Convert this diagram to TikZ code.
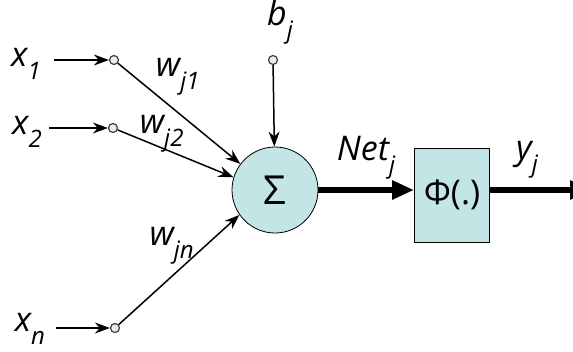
\documentclass[tikz,border=0pt]{standalone}
\usepackage{fontspec}
\setmainfont{Open Sans}
\usepackage{tikz}
\usetikzlibrary{arrows.meta, positioning, calc}
\usepackage{xcolor}

\definecolor{sumfill}{HTML}{C4E5E5}

% variable with a lowered italic subscript
\newcommand{\varlbl}[2]{{\itshape #1}\raisebox{-0.38em}{\fontsize{24}{26}\selectfont\itshape #2}}

\begin{document}
\begin{tikzpicture}[x=1pt, y=-1pt, >={Stealth[length=15pt, width=11pt]}, font=\fontsize{34}{40}\selectfont]

% --- Style Definitions ---
% Input terminals (small open circles)
\tikzstyle{term_node}=[circle, draw=black!75, line width=1.2pt, fill=black!8, inner sep=0pt, minimum size=9pt]
% Summing junction
\tikzstyle{sum_node}=[circle, draw=black, thick, fill=sumfill, minimum size=86pt, inner sep=0pt]
% Activation block
\tikzstyle{act_node}=[rectangle, draw=black, thick, fill=sumfill, minimum width=75pt, minimum height=94pt, inner sep=0pt]
% Text labels
\tikzstyle{txt_node}=[inner sep=1pt]

% Arrow Styles
\tikzstyle{in_arrow}=[->, line width=1.8pt]
\tikzstyle{w_arrow}=[->, line width=1.5pt]
\tikzstyle{big_arrow}=[-{Triangle[length=22pt, width=18pt]}, line width=6pt]

\useasboundingbox (0,0) rectangle (573,351);
\clip (0,0) rectangle (573,351);

% --- 1. Inputs ---
\node[txt_node] (X1) at (26,64) {\varlbl{x}{1}};
\node[txt_node] (X2) at (27,132) {\varlbl{x}{2}};
\node[txt_node] (Xn) at (30,329) {\varlbl{x}{n}};

\node[term_node] (T1) at (114,60) {};
\node[term_node] (T2) at (113,128) {};
\node[term_node] (Tn) at (115,328) {};
\node[term_node] (Tb) at (273,60) {};
\node[txt_node] (Bj) at (280,22) {\varlbl{b}{j}};

\draw[in_arrow, shorten <=12pt] (X1.east |- T1) -- (T1);
\draw[in_arrow, shorten <=6pt] (X2.east |- T2) -- (T2);
\draw[in_arrow, shorten <=10pt] (Xn.east |- Tn) -- (Tn);

% --- 2. Summing junction and activation ---
\node[sum_node] (Sum) at (275,190) {\fontsize{40}{44}\selectfont Σ};
\node[act_node] (Act) at (452,195) {Φ(.)};
\coordinate (Out) at (592,190);

% weighted connections
\draw[w_arrow] (T1) -- node[txt_node, pos=0.28, above right=-6pt and 2pt] (W1) {\varlbl{w}{j1}} (Sum.143);
\draw[w_arrow] (T2) -- node[txt_node, pos=0.38, above=-6pt] (W2) {\varlbl{w}{j2}} (Sum.163);
\draw[w_arrow] (Tn) -- node[txt_node, pos=0.52, above left=2pt and -14pt] (Wn) {\varlbl{w}{jn}} (Sum.215);
\draw[w_arrow] (Tb) -- (Sum);

% --- 3. Output path ---
\draw[big_arrow] (Sum.east) -- (Act.west |- Sum.east);
\node[txt_node] (Net) at (366,158) {\varlbl{Net}{j}};
\draw[big_arrow] (Act.east |- Sum.east) -- (Out);
\node[txt_node] (Yj) at (527,160) {\varlbl{y}{j}};

\end{tikzpicture}
\end{document}
